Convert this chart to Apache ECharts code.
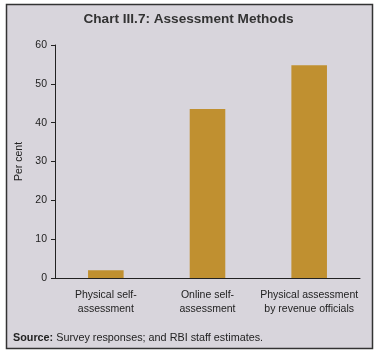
<!DOCTYPE html>
<html>
<head>
<meta charset="utf-8">
<script src="https://cdn.jsdelivr.net/npm/echarts@6/dist/echarts.min.js"></script>
<style>
  html, body { margin: 0; padding: 0; background: #fff; }
  #chart { width: 377px; height: 354px; }
</style>
</head>
<body>
<div id="chart"></div>
<script>
// data
const categories = ['Physical self-\nassessment', 'Online self-\nassessment', 'Physical assessment\nby revenue officials'];
const values = [2.0, 43.5, 54.8];
const yTicks = [0, 10, 20, 30, 40, 50, 60];

const FONT = '"Liberation Sans", Arial, sans-serif';
const chart = echarts.init(document.getElementById('chart'), null, {renderer: 'canvas'});

chart.setOption({
  backgroundColor: '#fff',
  animation: false,
  graphic: [
    {
      type: 'rect',
      z: -10,
      shape: {x: 6.5, y: 4.5, width: 366, height: 344},
      style: {fill: '#d8d5dc', stroke: '#333', lineWidth: 1.5},
    },
    {
      type: 'text',
      left: 13,
      top: 333,
      style: {
        rich: {
          b: {fontWeight: 'bold', fontSize: 10.8, fontFamily: FONT, fill: '#222'},
          n: {fontSize: 10.8, fontFamily: FONT, fill: '#222'},
        },
        text: '{b|Source:}{n| Survey responses; and RBI staff estimates.}',
      },
    },
  ],
  title: {
    text: 'Chart III.7: Assessment Methods',
    left: 'center',
    top: 7,
    textStyle: {fontSize: 13.6, fontWeight: 'bold', fontFamily: FONT, color: '#333'},
  },
  grid: {left: 55, right: 17, top: 45, bottom: 76, containLabel: false},
  xAxis: {
    type: 'category',
    data: categories,
    axisLine: {lineStyle: {color: '#222', width: 1}},
    axisTick: {show: false},
    axisLabel: {
      color: '#222',
      fontSize: 10.5,
      fontFamily: FONT,
      lineHeight: 14,
      margin: 10,
      interval: 0,
    },
  },
  yAxis: {
    type: 'value',
    min: yTicks[0],
    max: yTicks[yTicks.length - 1],
    interval: 10,
    name: 'Per cent',
    nameLocation: 'middle',
    nameGap: 29,
    nameTextStyle: {fontSize: 10.5, fontFamily: FONT, color: '#222'},
    splitLine: {show: false},
    axisLine: {show: true, lineStyle: {color: '#222', width: 1}},
    axisTick: {show: true, inside: false, length: 4, lineStyle: {color: '#222'}},
    axisLabel: {color: '#222', fontSize: 10.5, fontFamily: FONT, margin: 8},
  },
  series: [
    {
      type: 'bar',
      data: values,
      barWidth: '35%',
      itemStyle: {color: '#c09030'},
    },
  ],
});
</script>
</body>
</html>
